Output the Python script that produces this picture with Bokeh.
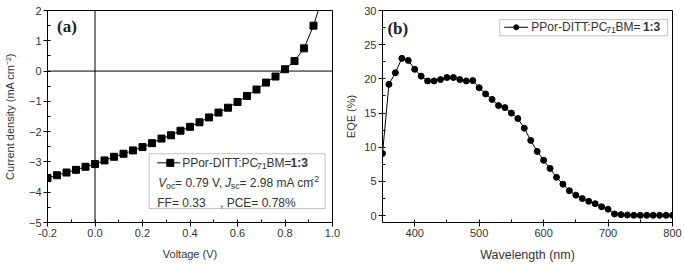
from bokeh.plotting import figure
from bokeh.layouts import row
from bokeh.models import (Range1d, SingleIntervalTicker, Span, Label, BoxAnnotation,
                          PrintfTickFormatter)
from bokeh.embed import file_html
from bokeh.resources import INLINE

# ---------------- data ----------------
voltage = [-0.20, -0.16, -0.12, -0.08, -0.04, 0.00, 0.04, 0.08, 0.12, 0.16, 0.20, 0.24,
           0.28, 0.32, 0.36, 0.40, 0.44, 0.48, 0.52, 0.56, 0.60, 0.64, 0.68, 0.72,
           0.76, 0.80, 0.84, 0.88, 0.92]
current = [-3.53, -3.44, -3.35, -3.26, -3.16, -3.07, -2.95, -2.83, -2.73, -2.62, -2.51, -2.38,
           -2.23, -2.12, -1.97, -1.84, -1.69, -1.53, -1.37, -1.21, -1.02, -0.82, -0.61, -0.38,
           -0.18, 0.06, 0.33, 0.75, 1.50]
# fitted curve continues past last marker up to the top of the frame
curve_tail_v = [0.94]
curve_tail_j = [2.0]

wavelength = [350, 360, 370, 380, 390, 400, 410, 420, 430, 440, 450, 460, 470, 480, 490,
              500, 510, 520, 530, 540, 550, 560, 570, 580, 590, 600, 610, 620, 630, 640,
              650, 660, 670, 680, 690, 700, 710, 720, 730, 740, 750, 760, 770, 780, 790, 800]
eqe = [9.1, 19.2, 20.9, 23.0, 22.7, 21.4, 20.4, 19.7, 19.7, 19.9, 20.2, 20.2, 19.9, 19.7, 19.75,
       18.7, 17.8, 17.0, 16.1, 15.8, 15.0, 14.2, 12.8, 11.0, 9.4, 8.1, 6.9, 5.6, 4.6, 3.65,
       3.0, 2.5, 2.1, 1.75, 1.3, 0.95, 0.25, 0.15, 0.1, 0.05, 0.05, 0.05, 0.05, 0.05, 0.05, 0.05]

FONT = "Liberation Sans"
TXT = "#333333"

W = {' ': 278, '%': 889, ',': 278, '-': 333, '.': 278, ':': 278, '=': 584, 'A': 667, 'B': 667,
     'C': 722, 'D': 722, 'E': 667, 'F': 611, 'I': 278, 'J': 500, 'M': 833, 'P': 667, 'T': 611,
     'V': 667, 'a': 556, 'c': 500, 'm': 833, 'o': 556, 'r': 333, 's': 500, 'n': 556}


def tw(s, size, bold=False):
    tot = 0
    for ch in s:
        w = W.get(ch, 556)
        if bold and ch == ':':
            w = 333
        tot += w
    return 0.965 * tot * size / 1000.0


def rich(p, x, y, pieces):
    off = 0.0
    for text, size, style, dy in pieces:
        p.add_layout(Label(x=x, y=y, x_offset=off, y_offset=dy, text=text,
                           text_font=FONT, text_font_size=f"{size}px", text_font_style=style,
                           text_color=TXT, text_baseline="middle", text_align="left",
                           level="overlay"))
        off += tw(text, size, bold=(style == "bold"))


def style_fig(p):
    p.outline_line_color = "black"
    p.outline_line_width = 1
    p.xgrid.visible = False
    p.ygrid.visible = False
    p.background_fill_color = "white"
    p.border_fill_color = "white"
    for ax in (p.xaxis[0], p.yaxis[0]):
        ax.axis_line_color = "black"
        ax.major_tick_line_color = "black"
        ax.minor_tick_line_color = "black"
        ax.major_tick_out = 4
        ax.major_tick_in = 0
        ax.minor_tick_out = 0
        ax.minor_tick_in = 3
        ax.major_label_text_font = FONT
        ax.major_label_text_font_size = "11px"
        ax.major_label_text_color = TXT
        ax.axis_label_text_font = FONT
        ax.axis_label_text_font_style = "normal"
        ax.axis_label_text_color = TXT
        ax.major_label_standoff = 2


# ---------------- panel (a) ----------------
p1 = figure(width=342, height=264, output_backend="svg", toolbar_location=None,
            x_range=Range1d(-0.2, 1.0), y_range=Range1d(-5, 2),
            min_border_left=47, min_border_right=10, min_border_top=10, min_border_bottom=42)
style_fig(p1)
p1.xaxis[0].ticker = SingleIntervalTicker(interval=0.2, num_minor_ticks=2)
p1.xaxis[0].formatter = PrintfTickFormatter(format="%.1f")
p1.yaxis[0].ticker = SingleIntervalTicker(interval=1, num_minor_ticks=2)
p1.xaxis[0].axis_label = "Voltage (V)"
p1.yaxis[0].axis_label = "Current density (mA cm\u207b\u00b2)"
p1.xaxis[0].axis_label_text_font_size = "11px"
p1.yaxis[0].axis_label_text_font_size = "11px"
p1.xaxis[0].axis_label_standoff = 8
p1.yaxis[0].axis_label_standoff = 10

p1.add_layout(Span(location=0, dimension="height", line_color="black", line_width=1))
p1.add_layout(Span(location=0, dimension="width", line_color="black", line_width=1))

p1.line(voltage + curve_tail_v, current + curve_tail_j, line_color="black", line_width=1)
p1.scatter(voltage, current, marker="square", size=7, fill_color="black", line_color="black")

p1.add_layout(Label(x=-0.16, y=1.47, text="(a)", text_font="Liberation Serif",
                    text_font_style="bold", text_font_size="17px", text_color="#222222",
                    text_baseline="middle"))

# legend (a)
p1.add_layout(BoxAnnotation(left=0.228, right=0.969, top=-2.73, bottom=-4.54,
                            fill_color="white", fill_alpha=1.0, line_color="#333333",
                            line_width=1, level="annotation"))
p1.line([0.262, 0.359], [-3.03, -3.03], line_color="black", line_width=1, level="overlay")
p1.scatter([0.317], [-3.03], marker="square", size=7, fill_color="black", line_color="black",
           level="overlay")
rich(p1, 0.367, -3.03, [("PPor-DITT:PC", 12, "normal", 0), ("71", 9, "normal", -3),
                        ("BM=", 12, "normal", 0), ("1:3", 12, "bold", 0)])
rich(p1, 0.266, -3.71, [("V", 12, "italic", 0), ("oc", 9, "normal", -3),
                        ("= 0.79 V, ", 12, "normal", 0), ("J", 12, "italic", 0),
                        ("sc", 9, "normal", -3), ("= 2.98 mA cm", 12, "normal", 0),
                        ("-2", 9, "normal", 4)])
rich(p1, 0.262, -4.34, [("FF= 0.33", 12, "normal", 0), ("     ", 12, "normal", 0),
                        (", PCE= 0.78%", 12, "normal", 0)])

# ---------------- panel (b) ----------------
p2 = figure(width=342, height=264, output_backend="svg", toolbar_location=None,
            x_range=Range1d(350, 800), y_range=Range1d(-1, 30),
            min_border_left=38, min_border_right=12, min_border_top=7, min_border_bottom=38)
style_fig(p2)
p2.xaxis[0].ticker = SingleIntervalTicker(interval=100, num_minor_ticks=2)
p2.yaxis[0].ticker = SingleIntervalTicker(interval=5, num_minor_ticks=2)
p2.xaxis[0].axis_label = "Wavelength (nm)"
p2.yaxis[0].axis_label = "EQE (%)"
p2.xaxis[0].axis_label_text_font_size = "12.5px"
p2.yaxis[0].axis_label_text_font_size = "11px"
p2.xaxis[0].axis_label_standoff = 8
p2.yaxis[0].axis_label_standoff = 4

p2.line(wavelength, eqe, line_color="black", line_width=1)
p2.scatter(wavelength, eqe, marker="circle", size=6, fill_color="black", line_color="black")

p2.add_layout(Label(x=357.7, y=27.35, text="(b)", text_font="Liberation Serif",
                    text_font_style="bold", text_font_size="17px", text_color="#222222",
                    text_baseline="middle"))

p2.add_layout(BoxAnnotation(left=532, right=792.4, top=28.67, bottom=26.3,
                            fill_color="white", fill_alpha=1.0, line_color="#333333",
                            line_width=1, level="annotation"))
p2.line([538.9, 575.8], [27.55, 27.55], line_color="black", line_width=1, level="overlay")
p2.scatter([557.5], [27.55], marker="circle", size=5, fill_color="black", line_color="black",
           level="overlay")
rich(p2, 580.9, 27.55, [("PPor-DITT:PC", 12, "normal", 0), ("71", 9, "normal", -3),
                        ("BM= ", 12, "normal", 0), ("1:3", 12, "bold", 0)])

layout = row(p1, p2)
open("out.html", "w").write(file_html(layout, INLINE))
